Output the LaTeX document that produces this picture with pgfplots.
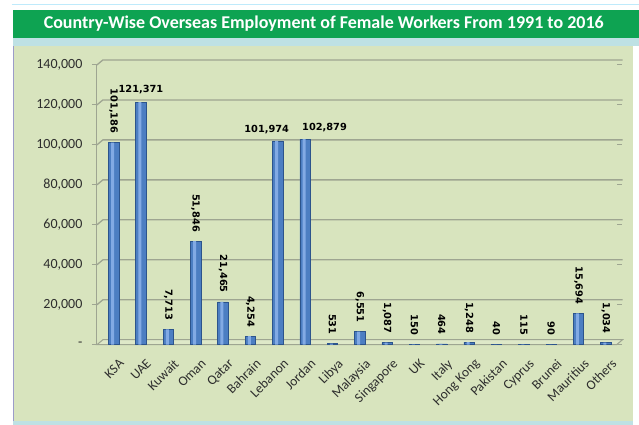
\documentclass[border=0pt]{standalone}
\usepackage{pgfplots}
\pgfplotsset{compat=1.18}
\usepackage{fontspec}
\setmainfont{Carlito}
\newfontfamily\dv{DejaVu Sans}

\definecolor{titlegreen}{RGB}{14,163,82}
\definecolor{strip}{RGB}{190,225,228}
\definecolor{panel}{RGB}{216,228,190}
\definecolor{gridc}{RGB}{158,165,145}
\definecolor{barM}{RGB}{76,126,194}
\definecolor{barL}{RGB}{130,170,228}
\definecolor{barD}{RGB}{44,84,140}
\definecolor{txt}{RGB}{45,45,45}

% rotated value label above a bar
\newcommand\vl[3]{\node[rotate=-90, anchor=east, inner sep=0pt, text=black,
  font=\dv\bfseries\fontsize{9.8}{11}\selectfont]
  at ([xshift=3pt,yshift=9pt]axis cs:#1,#2) {#3};}

\begin{document}
\begin{tikzpicture}[x=1pt,y=1pt]
% background, title bar, panel
\fill[white] (0,0) rectangle (639,425);
\draw[cyan!25, line width=1pt] (12,420) -- (639,420);
\fill[titlegreen] (13,387) rectangle (639,415);
\fill[strip] (13,379) rectangle (639,387);
\fill[panel] (13,4) rectangle (633,379);
\fill[strip] (13,0) rectangle (633,4);
\draw[blue!30!gray!60, line width=1pt] (13.5,4) -- (13.5,379);
\node[white, font=\bfseries\fontsize{18}{20}\selectfont] at (324,401)
  {Country-Wise Overseas Employment of Female Workers From 1991 to 2016};

\begin{axis}[
    at={(97pt,80pt)}, anchor=south west,
    scale only axis, width=520pt, height=280pt,
    xmin=-0.5, xmax=18.5, ymin=0, ymax=140000,
    clip=false,
    scaled y ticks=false,
    axis line style={draw=none},
    tick align=outside,
    major tick length=5pt, minor tick length=6pt,
    ytick={0,20000,40000,60000,80000,100000,120000,140000},
    yticklabels={-,{20,000},{40,000},{60,000},{80,000},{100,000},{120,000},{140,000}},
    ytick style={gridc, line width=1pt},
    yticklabel style={font=\fontsize{14}{16}\selectfont, text=txt, xshift=-6pt},
    xtick={0,...,18},
    xticklabels={KSA,UAE,Kuwait,Oman,Qatar,Bahrain,Lebanon,Jordan,Libya,Malaysia,
      Singapore,UK,Italy,Hong Kong,Pakistan,Cyprus,Brunei,Mauritius,Others},
    xtick style={draw=none},
    minor xtick={-0.5,0.5,...,18.5},
    minor x tick style={gridc, line width=1pt},
    xticklabel style={rotate=45, anchor=north east, font=\fontsize{13.5}{15}\selectfont,
      text=txt, yshift=-8pt, xshift=3pt},
]

% back wall gridlines with the left slant, front edge, floor
\pgfplotsinvokeforeach{20000,40000,60000,80000,100000,120000,140000}{
  \draw[gridc, line width=1.3pt] (axis cs:-0.5,#1) -- ([xshift=6pt,yshift=5pt]axis cs:-0.5,#1)
    -- ([xshift=6pt,yshift=5pt]axis cs:18.5,#1);
}
\draw[gridc, line width=1pt] (axis cs:-0.5,0) -- (axis cs:-0.5,140000);
\draw[gridc, line width=1pt, fill=panel!85!white] (axis cs:-0.5,0) -- (axis cs:18.5,0)
  -- ([xshift=6pt,yshift=5pt]axis cs:18.5,0) -- ([xshift=6pt,yshift=5pt]axis cs:-0.5,0) -- cycle;

% cylinders: body, then a light highlight strip on the same values
\addplot[ybar, bar width=10.5pt, bar shift=3pt, draw=barD, line width=0.5pt, fill=barM]
  coordinates {
  (0,101186) (1,121371) (2,7713) (3,51846) (4,21465) (5,4254) (6,101974)
  (7,102879) (8,531) (9,6551) (10,1087) (11,150) (12,464) (13,1248)
  (14,40) (15,115) (16,90) (17,15694) (18,1034)
};
\addplot[ybar, bar width=3pt, bar shift=2pt, draw=none, fill=barL]
  coordinates {
  (0,101186) (1,121371) (2,7713) (3,51846) (4,21465) (5,4254) (6,101974)
  (7,102879) (8,531) (9,6551) (10,1087) (11,150) (12,464) (13,1248)
  (14,40) (15,115) (16,90) (17,15694) (18,1034)
};

% value labels
\vl{0}{101186}{101,186}
\node[anchor=south, inner sep=0pt, font=\dv\bfseries\fontsize{9.8}{11}\selectfont]
  at ([xshift=3pt,yshift=8pt]axis cs:1,121371) {121,371};
\vl{2}{7713}{7,713}
\vl{3}{51846}{51,846}
\vl{4}{21465}{21,465}
\vl{5}{4254}{4,254}
\node[anchor=south, inner sep=0pt, font=\dv\bfseries\fontsize{9.8}{11}\selectfont]
  at ([xshift=-8pt,yshift=7pt]axis cs:6,101974) {101,974};
\node[anchor=south west, inner sep=0pt, font=\dv\bfseries\fontsize{9.8}{11}\selectfont]
  at ([xshift=0pt,yshift=7pt]axis cs:7,102879) {102,879};
\vl{8}{531}{531}
\vl{9}{6551}{6,551}
\vl{10}{1087}{1,087}
\vl{11}{150}{150}
\vl{12}{464}{464}
\vl{13}{1248}{1,248}
\vl{14}{40}{40}
\vl{15}{115}{115}
\vl{16}{90}{90}
\vl{17}{15694}{15,694}
\vl{18}{1034}{1,034}
\end{axis}
\end{tikzpicture}
\end{document}
